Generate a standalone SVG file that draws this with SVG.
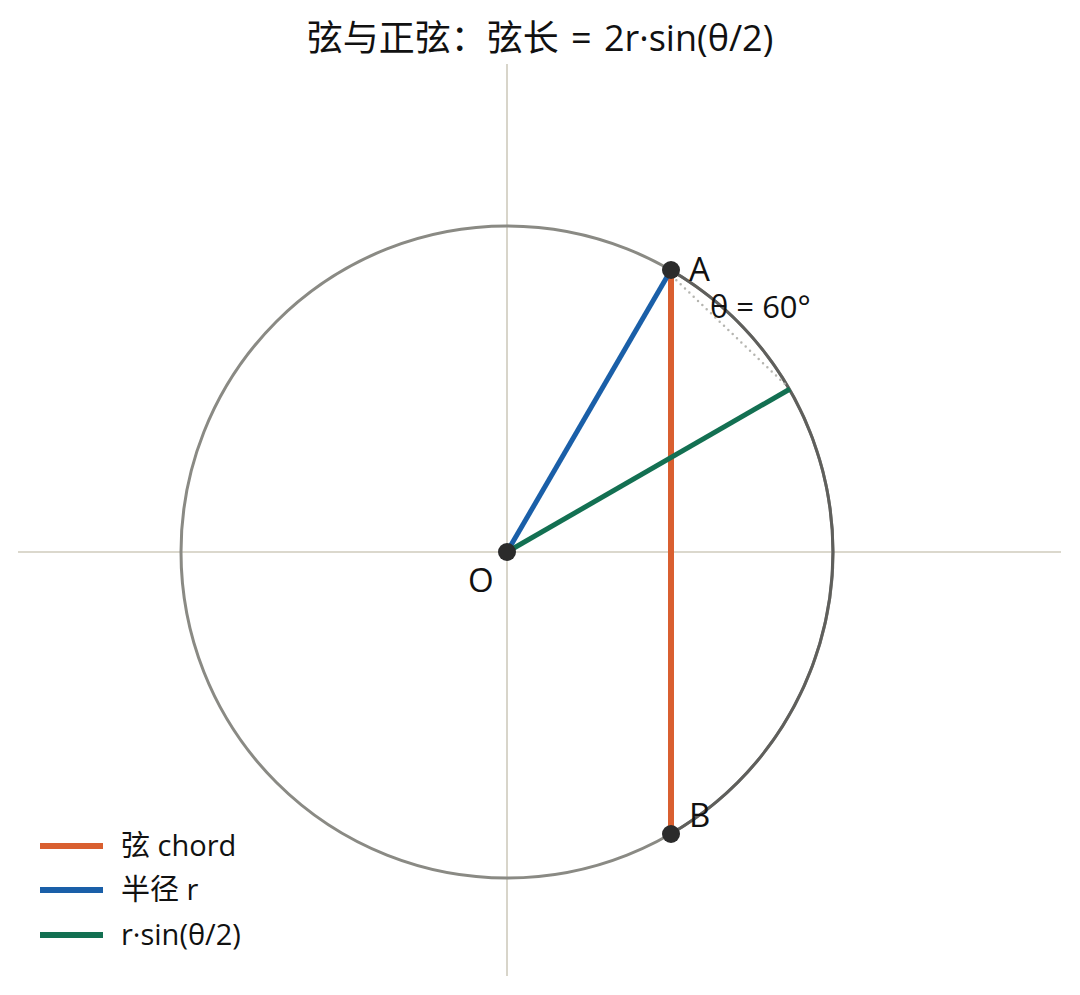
<svg xmlns="http://www.w3.org/2000/svg" width="1080" height="995" viewBox="0 0 1080 995">
<style>
.axis{stroke:#cfcbbd;stroke-width:1.6;fill:none}
.lbl{font-family:"Open Sans","Noto Sans CJK SC",sans-serif;fill:#111}
.pt{fill:#2b2b2b}
</style>
<rect width="1080" height="995" fill="#fff"/>
<text class="lbl" x="540" y="51" font-size="36" text-anchor="middle" word-spacing="3">弦与正弦：弦长 = 2r·sin(θ/2)</text>
<g id="axes">
<line class="axis" x1="18" y1="552" x2="1061" y2="552"/>
<line class="axis" x1="507" y1="64" x2="507" y2="976"/>
</g>
<g id="circle">
<circle cx="507" cy="552" r="326" fill="none" stroke="#8a8a84" stroke-width="3"/>
<path d="M670 269.7 A326 326 0 0 1 670 834.3" fill="none" stroke="#5f5f5c" stroke-width="3"/>
</g>
<g id="connectors">
<line x1="672" y1="276" x2="789" y2="388" stroke="#b5b5b0" stroke-width="2.5" stroke-dasharray="0 6" stroke-linecap="round"/>
<line x1="671" y1="270" x2="671" y2="834" stroke="#d95f30" stroke-width="6"/>
<line x1="507" y1="552" x2="671" y2="270" stroke="#1a5fa8" stroke-width="5"/>
<line x1="507" y1="552" x2="790" y2="389" stroke="#137052" stroke-width="5"/>
</g>
<g id="node-O"><circle class="pt" cx="507" cy="552" r="9"/><text class="lbl" x="468" y="592" font-size="33">O</text></g>
<g id="node-A"><circle class="pt" cx="671" cy="270" r="9"/><text class="lbl" x="689" y="281" font-size="33">A</text></g>
<g id="node-B"><circle class="pt" cx="671" cy="834" r="9"/><text class="lbl" x="689" y="827" font-size="33">B</text></g>
<g id="angle-label"><text class="lbl" x="710" y="318" font-size="31">θ = 60°</text></g>
<g id="legend">
<line x1="40" y1="846" x2="103" y2="846" stroke="#d95f30" stroke-width="6"/>
<text class="lbl" x="121" y="856" font-size="29">弦 chord</text>
<line x1="40" y1="890" x2="103" y2="890" stroke="#1a5fa8" stroke-width="6"/>
<text class="lbl" x="121" y="900" font-size="29">半径 r</text>
<line x1="40" y1="935" x2="103" y2="935" stroke="#137052" stroke-width="6"/>
<text class="lbl" x="121" y="945" font-size="29">r·sin(θ/2)</text>
</g>
</svg>
